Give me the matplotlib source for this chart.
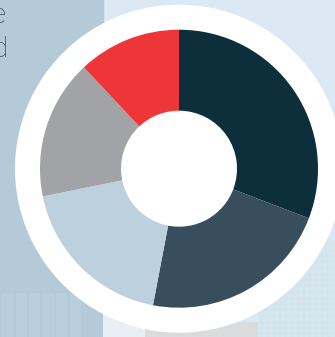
import matplotlib
matplotlib.use("Agg")
import matplotlib.pyplot as plt
from matplotlib.patches import Rectangle, Circle

# data
labels = ["A", "B", "C", "D", "E"]
values = [30.8, 22.2, 18.8, 16.2, 12.0]
colors = ["#0c2f3b", "#384e5c", "#bdd0dd", "#a2a3a6", "#ee3537"]
side_text = ["e", "d"]

W, H = 335, 337
fig = plt.figure(figsize=(W / 100, H / 100), dpi=100)

# background decoration axes (pixel coords)
bg = fig.add_axes([0, 0, 1, 1])
bg.set_xlim(0, W)
bg.set_ylim(H, 0)
bg.axis("off")
bg.add_patch(Rectangle((0, 0), W, H, color="#dce9f4"))
bg.add_patch(Rectangle((0, 0), 103, H, color="#b4cad8"))
# faint building strips bottom-left
for i in range(6):
    bg.add_patch(Rectangle((2 + i * 13.5, 293), 11, 50, color="#b9cedb", lw=0))
# bottom middle lighter area
bg.add_patch(Rectangle((103, 300), 50, 40, color="#e9eff3", lw=0))
bg.add_patch(Rectangle((145, 322), 115, 20, color="#d9dbdd", lw=0))
bg.add_patch(Rectangle((258, 240), 80, 100, color="#d6e6ef", lw=0))
for i in range(12):
    bg.plot([262 + i * 6, 262 + i * 6], [240, 337], color="#d0e0ea", lw=0.3)
for j in range(16):
    bg.plot([258, 335], [244 + j * 6, 244 + j * 6], color="#d0e0ea", lw=0.3)

for k, t in enumerate(side_text):
    bg.text(-8, 23 + k * 34, t, ha="left", va="baseline", fontsize=20,
            family=["Roboto", "DejaVu Sans"], fontweight="light", color="#3c4850")

# donut axes
R = 170
cx, cy = 179, 168.7
ax = fig.add_axes([(cx - R) / W, (H - cy - R) / H, 2 * R / W, 2 * R / H])
ax.set_xlim(-R, R)
ax.set_ylim(-R, R)
ax.axis("off")
ax.add_patch(Circle((0, 0), 164, color="white", lw=0, clip_on=False))
wedges, _ = ax.pie(values, colors=colors, startangle=90, counterclock=False,
                   radius=139, frame=True,
                   wedgeprops=dict(width=139 - 58, linewidth=0, antialiased=True))
for w in wedges:
    w.set_clip_on(False)
ax.set_xlim(-R, R)
ax.set_ylim(-R, R)
ax.set_aspect("auto")
ax.axis("off")

fig.savefig("out.png", dpi=100)
